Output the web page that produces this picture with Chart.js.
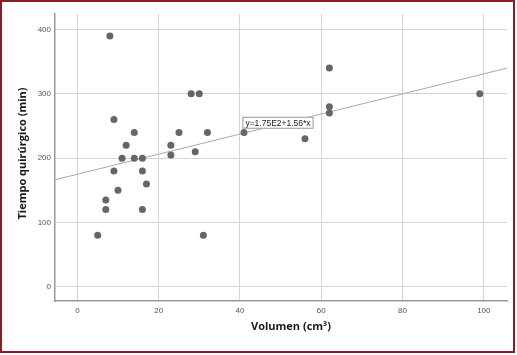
<!DOCTYPE html>
<html>
<head>
<meta charset="utf-8">
<script src="https://cdn.jsdelivr.net/npm/chart.js@4/dist/chart.umd.min.js"></script>
<style>
    html, body { margin: 0; padding: 0; background: #fff; }
    #wrap { position: relative; width: 517px; height: 355px; }
    #frame {
        position: absolute; left: 0; top: 0; width: 515px; height: 353px;
        border: 2px solid #8b1c24; box-sizing: border-box; pointer-events: none;
    }
</style>
</head>
<body>
<div id="wrap">
    <canvas id="scatter-chart" width="517" height="355"></canvas>
    <div id="frame"></div>
</div>
<script>
// Volumen (cm3) and Tiempo quirurgico (min)
const volumen = [8, 9, 28, 30, 14, 25, 32, 41, 12, 23, 23, 29, 11, 14, 16, 9, 16, 10, 17, 7, 7, 16, 5, 31, 62, 62, 62, 56, 99];
const tiempo = [390, 260, 300, 300, 240, 240, 240, 240, 220, 220, 205, 210, 200, 200, 200, 180, 180, 150, 160, 135, 120, 120, 80, 80, 340, 280, 270, 230, 300];

const xTicks = [0, 20, 40, 60, 80, 100];
const yTicks = [0, 100, 200, 300, 400];

// fitted line y = 1.75E2 + 1.56*x
const intercept = 175;
const slope = 1.56;
const fitLabel = 'y=1.75E2+1.56*x';

const xMin = -5.5, xMax = 105.7;
const yMin = -22, yMax = 424;

const points = volumen.map((v, i) => ({ x: v, y: tiempo[i] }));
const fitLine = [xMin, xMax].map(x => ({ x: x, y: intercept + slope * x }));

// draws the equation box and both axis titles
const extras = {
    id: 'extras',
    afterDatasetsDraw(chart) {
        const { ctx, chartArea, scales } = chart;
        ctx.save();

        // equation label, left edge at x=40.6, centred on y=255
        ctx.font = '8.5px "Liberation Sans", Arial, sans-serif';
        const w = ctx.measureText(fitLabel).width + 6;
        const h = 12;
        const bx = scales.x.getPixelForValue(40.6);
        const by = scales.y.getPixelForValue(255) - h / 2;
        ctx.fillStyle = '#fff';
        ctx.fillRect(bx, by, w, h);
        ctx.strokeStyle = '#999';
        ctx.lineWidth = 1;
        ctx.strokeRect(bx + 0.5, by + 0.5, w - 1, h - 1);
        ctx.fillStyle = '#222';
        ctx.textBaseline = 'middle';
        ctx.textAlign = 'left';
        ctx.fillText(fitLabel, bx + 3, by + h / 2 + 0.5);

        // axis titles
        ctx.font = 'bold 11px "Open Sans", sans-serif';
        ctx.fillStyle = '#1a1a1a';
        ctx.textAlign = 'center';
        ctx.fillText('Volumen (cm³)', (chartArea.left + chartArea.right) / 2 + 10, 327);

        ctx.translate(23, (chartArea.top + chartArea.bottom) / 2 - 4);
        ctx.rotate(-Math.PI / 2);
        ctx.fillText('Tiempo quirúrgico (min)', 0, 0);
        ctx.restore();
    }
};

const ctx = document.getElementById('scatter-chart').getContext('2d');
const myChart = new Chart(ctx, {
    type: 'scatter',
    data: {
        datasets: [
            {
                data: points,
                backgroundColor: '#666',
                borderWidth: 0,
                pointRadius: 3.5,
                pointHoverRadius: 3.5,
            },
            {
                type: 'line',
                data: fitLine,
                borderColor: '#aaa',
                borderWidth: 1,
                pointRadius: 0,
                fill: false,
            },
        ],
    },
    options: {
        responsive: false,
        animation: false,
        layout: { padding: { top: 14, right: 10, left: 0, bottom: 0 } },
        plugins: {
            legend: { display: false },
            tooltip: { enabled: false },
        },
        scales: {
            x: {
                type: 'linear',
                min: xMin,
                max: xMax,
                afterBuildTicks: scale => { scale.ticks = xTicks.map(v => ({ value: v })); },
                afterFit: scale => { scale.height = 54; },
                grid: { color: '#d4d4d4', lineWidth: 1, drawTicks: false },
                border: { color: '#999', width: 1.5 },
                ticks: {
                    padding: 5,
                    color: '#555',
                    font: { size: 8, family: '"Liberation Sans", Arial, sans-serif' },
                },
            },
            y: {
                type: 'linear',
                min: yMin,
                max: yMax,
                afterBuildTicks: scale => { scale.ticks = yTicks.map(v => ({ value: v })); },
                afterFit: scale => { scale.width = 55; },
                grid: { color: '#d4d4d4', lineWidth: 1, drawTicks: false },
                border: { color: '#999', width: 1.5 },
                ticks: {
                    padding: 4,
                    color: '#555',
                    font: { size: 8, family: '"Liberation Sans", Arial, sans-serif' },
                },
            },
        },
    },
    plugins: [extras],
});
</script>
</body>
</html>
